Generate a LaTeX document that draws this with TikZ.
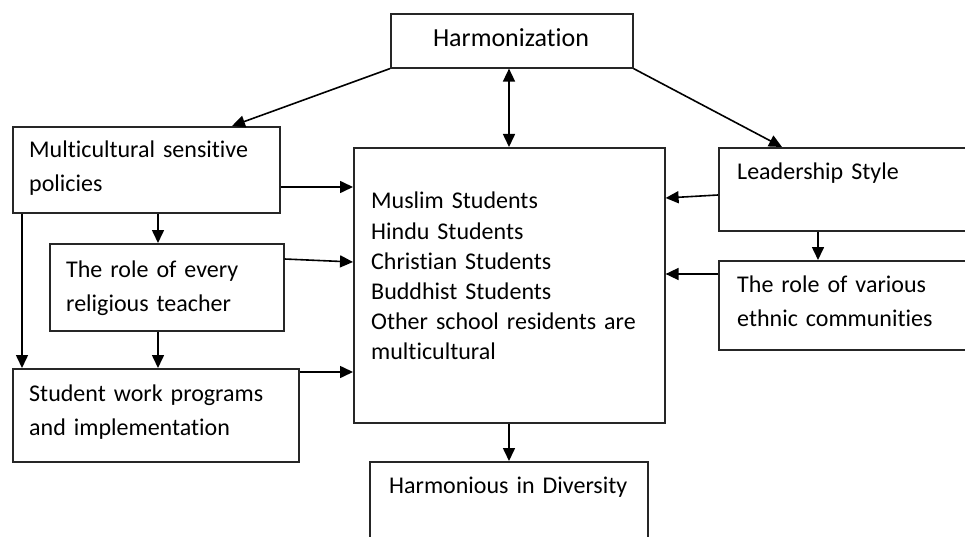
\documentclass[tikz,border=0pt]{standalone}
\usepackage{fontspec}
\setmainfont{Carlito}[Ligatures={NoCommon,NoRare,NoContextual}]
\usetikzlibrary{arrows.meta}
\begin{document}
\begin{tikzpicture}[x=1pt,y=-1pt,
  box/.style={draw=black!85, line width=1.6pt, rectangle, inner sep=0pt, anchor=north west},
  txt/.style={inner sep=0pt, anchor=base west, align=left, text=black,
     font={\fontsize{24}{34}\selectfont}},
  ctxt/.style={txt, font={\fontsize{24}{30}\selectfont}},
  arr/.style={draw=black, line width=1.6pt, -{Triangle[length=13pt,width=12pt]}},
  darr/.style={draw=black, line width=1.6pt, {Triangle[length=13pt,width=12pt]}-{Triangle[length=13pt,width=12pt]}}]
\clip (0,0) rectangle (965,537);
\fill[white] (0,0) rectangle (965,537);

% boxes
\node[box, minimum width=242pt, minimum height=54pt] (harm) at (390,13) {};
\node[box, minimum width=267pt, minimum height=86pt] (multi) at (12,126) {};
\node[box, minimum width=311pt, minimum height=275pt] (center) at (353,147) {};
\node[box, minimum width=280pt, minimum height=83pt] (lead) at (718,147) {};
\node[box, minimum width=280pt, minimum height=89pt] (var) at (718,260) {};
\node[box, minimum width=234pt, minimum height=87pt] (every) at (49,243) {};
\node[box, minimum width=286pt, minimum height=93pt] (work) at (12,368) {};
\node[box, minimum width=278pt, minimum height=110pt] (harmon) at (369,461) {};

% texts
\node[txt, anchor=base, align=center, font={\fontsize{26}{30}\selectfont}] (harm-t) at (511,47) {Harmonization};
\node[txt, text width=250pt] (multi-t) at (29,158) {Multicultural sensitive\\policies};
\node[txt, text width=215pt] (every-t) at (66,277) {The role of every\\religious teacher};
\node[txt, text width=265pt] (work-t) at (29,401) {Student work programs\\and implementation};
\node[ctxt, text width=290pt] (center-t) at (371,209) {Muslim Students\\Hindu Students\\Christian Students\\Buddhist Students\\Other school residents are\\multicultural};
\node[txt, text width=225pt] (lead-t) at (737,180) {Leadership Style};
\node[txt, text width=225pt] (var-t) at (737,292) {The role of various\\ethnic communities};
\node[txt, text width=255pt] (harmon-t) at (389,493) {Harmonious in Diversity};

% helper coordinates
\coordinate (xm) at (509,0);
\coordinate (xl) at (158,0);
\coordinate (xe) at (22,0);
\coordinate (xr) at (818,0);
\coordinate (y1) at (0,187);
\coordinate (y2a) at (0,259);
\coordinate (y2b) at (0,262);
\coordinate (y3) at (0,372);
\coordinate (y4a) at (0,195);
\coordinate (y4b) at (0,198);
\coordinate (y5) at (0,274);

% connectors
\draw[arr] (harm.south west) -- ([xshift=220pt]multi.north west);
\draw[arr] (harm.south east) -- ([xshift=64pt]lead.north west);
\draw[darr] (harm.south -| xm) -- (center.north -| xm);
\draw[arr] (multi.east |- y1) -- (center.west |- y1);
\draw[arr] (multi.south -| xl) -- (every.north -| xl);
\draw[arr] (multi.south -| xe) -- (work.north -| xe);
\draw[arr] (every.east |- y2a) -- (center.west |- y2b);
\draw[arr] (every.south -| xl) -- (work.north -| xl);
\draw[arr] (work.east |- y3) -- (center.west |- y3);
\draw[arr] (lead.west |- y4a) -- (center.east |- y4b);
\draw[arr] (lead.south -| xr) -- (var.north -| xr);
\draw[arr] (var.west |- y5) -- (center.east |- y5);
\draw[arr] (center.south -| xm) -- (harmon.north -| xm);
\end{tikzpicture}
\end{document}
